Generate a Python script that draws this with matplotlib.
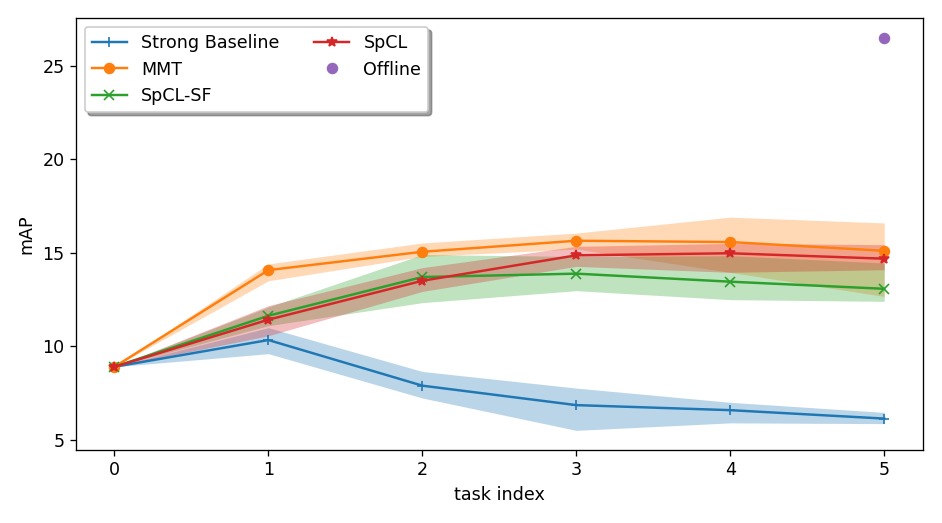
import numpy as np
import matplotlib
matplotlib.use('Agg')
import matplotlib.pyplot as plt

tasks = [0, 1, 2, 3, 4, 5]

# mean mAP per task
baseline = [8.9, 10.33, 7.89, 6.85, 6.58, 6.13]
mmt = [8.9, 14.07, 15.05, 15.64, 15.57, 15.1]
spcl_sf = [8.9, 11.63, 13.7, 13.88, 13.45, 13.07]
spcl = [8.9, 11.42, 13.5, 14.86, 14.97, 14.68]
offline = 26.5

# band limits (min / max over runs)
baseline_lo = [8.9, 9.6, 7.23, 5.5, 5.9, 5.86]
baseline_hi = [8.9, 10.99, 8.65, 7.76, 7.0, 6.46]
mmt_lo = [8.9, 13.5, 14.8, 15.2, 13.95, 12.66]
mmt_hi = [8.9, 14.4, 15.52, 16.05, 16.9, 16.59]
spcl_sf_lo = [8.9, 11.1, 12.33, 12.97, 12.49, 12.4]
spcl_sf_hi = [8.9, 12.1, 14.9, 14.8, 14.84, 14.45]
spcl_lo = [8.9, 10.56, 12.93, 14.27, 13.95, 14.09]
spcl_hi = [8.9, 12.17, 14.2, 15.34, 15.5, 15.43]

plt.rcParams['font.size'] = 10.7

fig = plt.figure(figsize=(942 / 118, 523 / 118), dpi=118)
ax = fig.add_axes([76 / 942, 1 - 450 / 523, (922.7 - 76) / 942, (450 - 18) / 523])

ax.plot(tasks, baseline, marker='+', color='C0', label='Strong Baseline')
ax.fill_between(tasks, baseline_lo, baseline_hi, color='C0', alpha=0.3, linewidth=0)
ax.plot(tasks, mmt, marker='o', color='C1', label='MMT')
ax.fill_between(tasks, mmt_lo, mmt_hi, color='C1', alpha=0.3, linewidth=0)
ax.plot(tasks, spcl_sf, marker='x', color='C2', label='SpCL-SF')
ax.fill_between(tasks, spcl_sf_lo, spcl_sf_hi, color='C2', alpha=0.3, linewidth=0)
ax.plot(tasks, spcl, marker='*', color='C3', label='SpCL')
ax.fill_between(tasks, spcl_lo, spcl_hi, color='C3', alpha=0.3, linewidth=0)
ax.plot([5], [offline], 'o', color='C4', label='Offline')

ax.set_xlabel('task index')
ax.set_ylabel('mAP')
ax.legend(loc='upper left', ncol=2, shadow=True)

fig.savefig('out.png', dpi=118)
